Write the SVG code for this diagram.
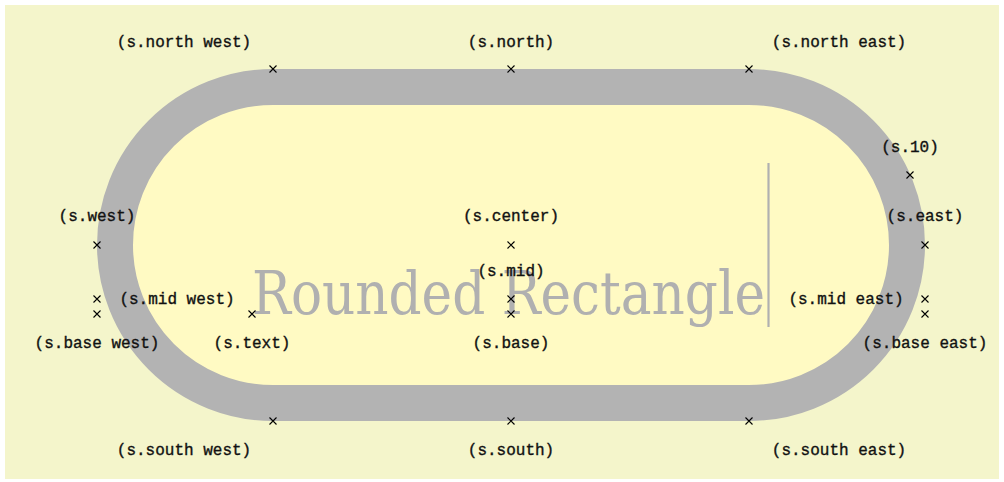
<svg xmlns="http://www.w3.org/2000/svg" width="1004" height="482" viewBox="0 0 1004 482">
<style>
.lbl{font-family:"Liberation Mono",monospace;font-size:16px;fill:#111;stroke:#111;stroke-width:0.35;text-anchor:middle}
.x{stroke:#000;stroke-width:1.1;fill:none}
.big{font-family:"DejaVu Serif","Liberation Serif",serif;font-size:60px;font-weight:200;fill:#b0b0b0}
</style>
<defs>
<path id="cross" d="M-3.5,-3.5L3.5,3.5M-3.5,3.5L3.5,-3.5" class="x"/>
</defs>
<rect x="5" y="5" width="994" height="474" fill="#f4f5cb"/>
<g id="s">
<path d="M273,87 H749 A158,158 0 0 1 749,403 H273 A158,158 0 0 1 273,87 Z" fill="#fffac3" stroke="#b3b3b3" stroke-width="36"/>
<text class="big" x="252" y="314" textLength="513" lengthAdjust="spacingAndGlyphs">Rounded Rectangle</text>
<line x1="768.5" y1="163" x2="768.5" y2="327" stroke="#b0b0b0" stroke-width="2.2"/>
</g>
<g id="anchors">
<use href="#cross" x="273" y="69"/>
<use href="#cross" x="511" y="69"/>
<use href="#cross" x="749" y="69"/>
<use href="#cross" x="910" y="175"/>
<use href="#cross" x="97" y="245"/>
<use href="#cross" x="511" y="245"/>
<use href="#cross" x="925" y="245"/>
<use href="#cross" x="97" y="299"/>
<use href="#cross" x="511" y="299"/>
<use href="#cross" x="925" y="299"/>
<use href="#cross" x="97" y="314"/>
<use href="#cross" x="511" y="314"/>
<use href="#cross" x="925" y="314"/>
<use href="#cross" x="252" y="314"/>
<use href="#cross" x="273" y="421"/>
<use href="#cross" x="511" y="421"/>
<use href="#cross" x="749" y="421"/>
</g>
<g id="labels">
<text class="lbl" x="184" y="47">(s.north west)</text>
<text class="lbl" x="511" y="47">(s.north)</text>
<text class="lbl" x="839" y="47">(s.north east)</text>
<text class="lbl" x="910" y="152">(s.10)</text>
<text class="lbl" x="97" y="221">(s.west)</text>
<text class="lbl" x="511" y="221">(s.center)</text>
<text class="lbl" x="925" y="221">(s.east)</text>
<text class="lbl" x="511" y="276">(s.mid)</text>
<text class="lbl" x="177" y="304">(s.mid west)</text>
<text class="lbl" x="846" y="304">(s.mid east)</text>
<text class="lbl" x="97" y="348">(s.base west)</text>
<text class="lbl" x="252" y="348">(s.text)</text>
<text class="lbl" x="511" y="348">(s.base)</text>
<text class="lbl" x="925" y="348">(s.base east)</text>
<text class="lbl" x="184" y="455">(s.south west)</text>
<text class="lbl" x="511" y="455">(s.south)</text>
<text class="lbl" x="839" y="455">(s.south east)</text>
</g>
</svg>
